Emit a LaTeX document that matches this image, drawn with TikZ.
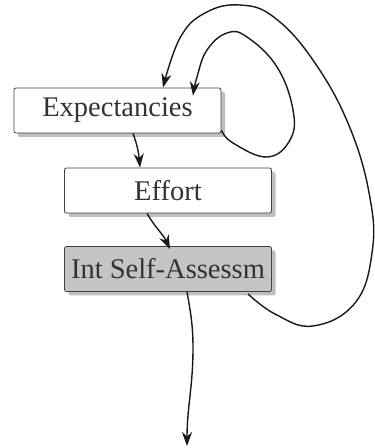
\documentclass[tikz,border=0pt]{standalone}
\usepackage{fontspec}
\setmainfont{Liberation Serif}
\usetikzlibrary{arrows.meta,shadows}

\tikzset{
  stagebox/.style={draw=black!75, line width=0.8pt, rounded corners=2pt, fill=white,
    minimum width=207pt, minimum height=45pt, inner sep=0pt, text=black!80,
    font=\fontsize{28.5}{30}\selectfont,
    drop shadow={shadow xshift=4pt, shadow yshift=-4pt, fill=black!50}},
  feedback/.style={-{Stealth[length=14pt,width=10pt]}, line width=1.4pt, black!90}
}

\begin{document}
\begin{tikzpicture}[x=1pt,y=1pt]
\useasboundingbox (0,0) rectangle (375,448);
\node[stagebox] (exp) at (117.5,337.5) {Expectancies};
\node[stagebox] (eff) at (168,257.5) {Effort};
\node[stagebox, fill=black!23] (isa) at (168,179) {Int Self-Assessm};
\coordinate (out) at (187,2);
% chain down the middle
\draw[feedback] ([xshift=15.5pt]exp.south) to[out=-70,in=95] ([xshift=-28pt]eff.north);
\draw[feedback] ([xshift=-21pt]eff.south) to[out=-60,in=115] ([xshift=2pt,yshift=-3pt]isa.north);
\draw[feedback] ([xshift=19pt]isa.south) to[out=-80,in=90] (193,100) to[out=-90,in=90] (out);
% loops back to the top box
\draw[feedback] plot[smooth, tension=0.7] coordinates {([yshift=3pt]exp.south east) (233,305) (267,291) (290,308) (293,338) (277,381) (247,411) (227,415) (207,398) (197,371) ([xshift=75.5pt,yshift=-8pt]exp.north)};
\draw[feedback] plot[smooth, tension=0.7] coordinates {([xshift=80pt,yshift=-2pt]isa.south) (275,134) (313,122) (355,145) (372,195) (370,250) (350,320) (315,385) (275,430) (240,443) (205,435) (180,410) ([xshift=45.5pt]exp.north)};
\end{tikzpicture}
\end{document}
